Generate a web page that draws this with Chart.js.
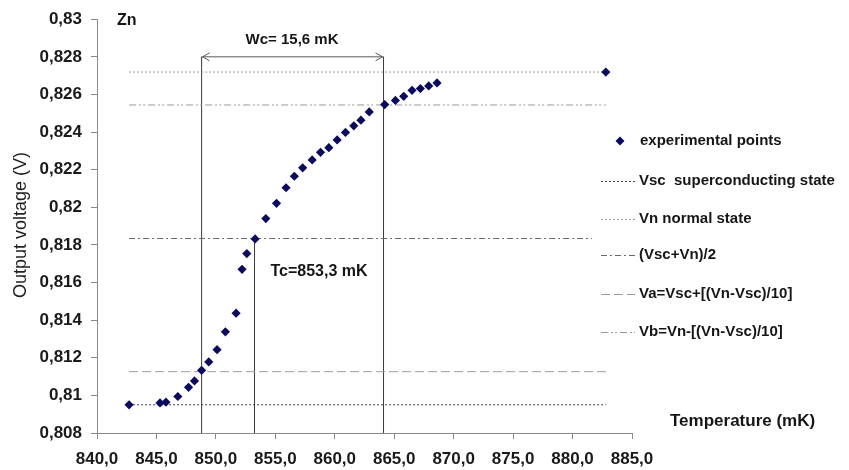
<!DOCTYPE html>
<html lang="en">

<head>
    <meta charset="UTF-8">
    <title>Zn transition</title>
    <script src="https://cdn.jsdelivr.net/npm/chart.js@4.4.0/dist/chart.umd.min.js"></script>
    <style>
        body { margin: 0; background: #fff; }
        #grafico { display: block; }
    </style>
</head>

<body>
    <canvas id="grafico" width="849" height="470"></canvas>
</body>

<script>
    // experimental points (temperature in mK, output voltage in V)
    var temperaturas = [842.7, 845.3, 845.8, 846.8, 847.7, 848.2, 848.8, 849.4, 850.1, 850.8,
        851.7, 852.2, 852.6, 853.3, 854.2, 855.1, 855.9, 856.6, 857.3, 858.1,
        858.8, 859.5, 860.2, 860.9, 861.6, 862.2, 862.9, 864.2, 865.1, 865.8,
        866.5, 867.2, 867.9, 868.6, 882.8];
    var tensoes = [0.8095, 0.8096, 0.80964, 0.80994, 0.81043, 0.81077, 0.81133, 0.81178, 0.81243, 0.81338,
        0.81437, 0.8167, 0.81754, 0.81832, 0.8194, 0.82021, 0.82104, 0.82165, 0.8221, 0.82252,
        0.82292, 0.82317, 0.82358, 0.82398, 0.82433, 0.82463, 0.82507, 0.82546, 0.82568, 0.8259,
        0.82622, 0.82631, 0.82645, 0.82661, 0.82719];

    // horizontal reference levels
    var niveisNomes = ['Vsc  superconducting state', 'Vn normal state', '(Vsc+Vn)/2',
        'Va=Vsc+[(Vn-Vsc)/10]', 'Vb=Vn-[(Vn-Vsc)/10]'];
    var niveisValores = [0.8095, 0.82719, 0.81834, 0.81126, 0.82544];
    var niveisInicio = [842.7, 842.7, 842.7, 842.7, 842.7];
    var niveisFim = [882.8, 882.8, 882.8, 882.8, 882.8];

    // vertical markers: Wc edges and Tc
    var verticaisT = [848.8, 853.25, 864.1];
    var verticaisTopo = [0.828, 0.81834, 0.828];
    var setaWc = [848.8, 864.1, 0.828];

    var xTicks = [840, 885, 5];
    var yTicks = [0.808, 0.83, 0.002];

    var estilos = [
        { cor: '#444444', dash: [2, 2] },
        { cor: '#9a9a9a', dash: [2, 2] },
        { cor: '#6a6a6a', dash: [6, 3, 2, 3] },
        { cor: '#9a9a9a', dash: [9, 4] },
        { cor: '#9a9a9a', dash: [7, 3, 2, 2, 2, 3] }
    ];

    var fonte = "'Liberation Sans', Arial, sans-serif";

    var datasets = [];
    datasets.push({
        label: 'experimental points',
        data: temperaturas.map(function (t, i) { return { x: t, y: tensoes[i] }; }),
        showLine: false,
        pointStyle: 'rectRot',
        pointRadius: 4.6,
        backgroundColor: '#0b0b5e',
        borderColor: '#0b0b5e',
        borderWidth: 0
    });

    for (var i = 0; i < niveisValores.length; i++) {
        datasets.push({
            label: niveisNomes[i],
            data: [{ x: niveisInicio[i], y: niveisValores[i] }, { x: niveisFim[i], y: niveisValores[i] }],
            showLine: true,
            pointRadius: 0,
            borderColor: estilos[i].cor,
            borderDash: estilos[i].dash,
            borderWidth: 1
        });
    }

    for (var j = 0; j < verticaisT.length; j++) {
        datasets.push({
            label: 'v' + j,
            data: [{ x: verticaisT[j], y: yTicks[0] }, { x: verticaisT[j], y: verticaisTopo[j] }],
            showLine: true,
            pointRadius: 0,
            borderColor: '#3a3a3a',
            borderWidth: 1
        });
    }

    datasets.push({
        label: 'Wc',
        data: [{ x: setaWc[0], y: setaWc[2] }, { x: setaWc[1], y: setaWc[2] }],
        showLine: true,
        pointRadius: 0,
        borderColor: '#5a5a5a',
        borderWidth: 1
    });

    var extras = {
        id: 'extras',
        afterDatasetsDraw: function (chart) {
            var ctx = chart.ctx;
            var sx = chart.scales.x, sy = chart.scales.y;
            ctx.save();

            // arrow heads of Wc
            var ya = sy.getPixelForValue(setaWc[2]);
            var xa = sx.getPixelForValue(setaWc[0]);
            var xb = sx.getPixelForValue(setaWc[1]);
            ctx.strokeStyle = '#5a5a5a';
            ctx.lineWidth = 1;
            ctx.beginPath();
            ctx.moveTo(xa + 8, ya - 4); ctx.lineTo(xa + 1, ya); ctx.lineTo(xa + 8, ya + 4);
            ctx.moveTo(xb - 8, ya - 4); ctx.lineTo(xb - 1, ya); ctx.lineTo(xb - 8, ya + 4);
            ctx.stroke();

            // legend box
            ctx.fillStyle = '#ffffff';
            ctx.fillRect(592, 118, 257, 232);
            var legY = [141, 181, 219, 255, 294, 332];
            ctx.font = 'bold 15px ' + fonte;
            ctx.textBaseline = 'middle';
            ctx.textAlign = 'left';
            ctx.fillStyle = '#0b0b5e';
            ctx.beginPath();
            ctx.moveTo(620, legY[0] - 4.5); ctx.lineTo(624.5, legY[0]);
            ctx.lineTo(620, legY[0] + 4.5); ctx.lineTo(615.5, legY[0]);
            ctx.closePath();
            ctx.fill();
            ctx.fillStyle = '#161616';
            ctx.fillText('experimental points', 640, legY[0]);
            for (var k = 0; k < niveisNomes.length; k++) {
                var yy = legY[k + 1] + 0.5;
                ctx.strokeStyle = estilos[k].cor;
                ctx.setLineDash(estilos[k].dash);
                ctx.beginPath();
                ctx.moveTo(601, yy); ctx.lineTo(635, yy);
                ctx.stroke();
                ctx.setLineDash([]);
                ctx.fillText(niveisNomes[k], 639, legY[k + 1]);
            }

            // annotations
            ctx.font = 'bold 16px ' + fonte;
            ctx.fillText('Zn', 117, 21);
            ctx.textAlign = 'center';
            ctx.font = 'bold 15px ' + fonte;
            ctx.fillText('Wc= 15,6 mK', 292, 40);
            ctx.font = 'bold 16px ' + fonte;
            ctx.fillText('Tc=853,3 mK', 319, 272);
            ctx.textAlign = 'left';
            ctx.font = 'bold 17px ' + fonte;
            ctx.fillText('Temperature (mK)', 670, 421);

            ctx.translate(21, 225);
            ctx.rotate(-Math.PI / 2);
            ctx.textAlign = 'center';
            ctx.font = '18px ' + fonte;
            ctx.fillStyle = '#222';
            ctx.fillText('Output voltage (V)', 0, 0);
            ctx.restore();
        }
    };

    new Chart(document.getElementById('grafico'), {
        type: 'scatter',
        data: { datasets: datasets },
        options: {
            responsive: false,
            animation: false,
            devicePixelRatio: 1,
            layout: { padding: { left: 0, right: 217, top: 17, bottom: 0 } },
            plugins: { legend: { display: false }, tooltip: { enabled: false } },
            scales: {
                x: {
                    type: 'linear',
                    min: xTicks[0],
                    max: xTicks[1],
                    afterFit: function (s) { s.height = 37; },
                    ticks: {
                        stepSize: xTicks[2],
                        padding: 10,
                        color: '#1a1a1a',
                        font: { family: fonte, size: 17, weight: 'bold' },
                        maxRotation: 0,
                        autoSkip: false,
                        callback: function (v) { return v.toFixed(1).replace('.', ','); }
                    },
                    grid: { drawOnChartArea: false, tickLength: 6, color: '#8a8a8a' },
                    border: { color: '#8a8a8a', width: 1 }
                },
                y: {
                    type: 'linear',
                    min: yTicks[0],
                    max: yTicks[1],
                    afterFit: function (s) { s.width = 97; },
                    ticks: {
                        stepSize: yTicks[2],
                        padding: 9,
                        color: '#1a1a1a',
                        font: { family: fonte, size: 17, weight: 'bold' },
                        autoSkip: false,
                        callback: function (v) { return String(Number(v.toFixed(3))).replace('.', ','); }
                    },
                    grid: { drawOnChartArea: false, tickLength: 6, color: '#8a8a8a' },
                    border: { color: '#8a8a8a', width: 1 }
                }
            }
        },
        plugins: [extras]
    });
</script>

</html>
